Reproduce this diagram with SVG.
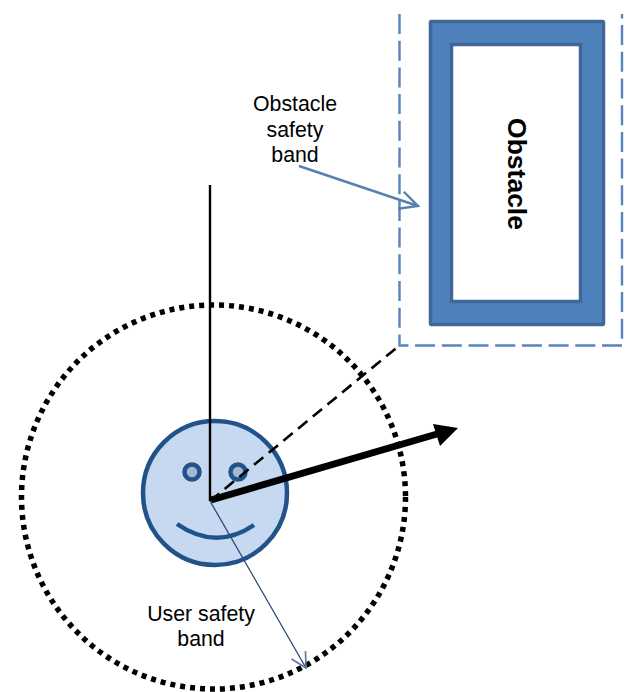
<svg xmlns="http://www.w3.org/2000/svg" width="625" height="692" viewBox="0 0 625 692">
<style>
text{font-family:"Liberation Sans",Arial,sans-serif;font-size:21.300px;fill:#000;text-anchor:middle}
.face{stroke:#22528a;stroke-width:4.500}
</style>
<defs>
<marker id="open" markerUnits="userSpaceOnUse" markerWidth="30" markerHeight="30" refX="20" refY="10" orient="auto" overflow="visible"><path d="M2 1L20 10L2 19" fill="none" stroke="#5a7fae" stroke-width="2.400"/></marker>
<marker id="thin" markerUnits="userSpaceOnUse" markerWidth="30" markerHeight="30" refX="16" refY="9" orient="auto" overflow="visible"><path d="M1 1L16 9L1 17" fill="none" stroke="#5f7396" stroke-width="1.600"/></marker>
</defs>
<g id="obstacle">
<rect x="430.500" y="21.500" width="173" height="303" fill="#4f81bd" stroke="#3f6797" stroke-width="3.500" rx="1"/>
<rect x="451.500" y="44.500" width="129" height="257" fill="#fff" stroke="#3f6797" stroke-width="3.500"/>
<text transform="translate(508 174) rotate(90)" style="font-weight:bold;font-size:26.500px">Obstacle</text>
</g>
<g id="obstacle-safety-band">
<path d="M399.500 14V345.500H622V14" fill="none" stroke="#5585bd" stroke-width="2.400" stroke-dasharray="20 6.700"/>
<text x="295" y="111">Obstacle</text>
<text x="295" y="137">safety</text>
<text x="295" y="162">band</text>
</g>
<g id="user-safety-band">
<circle cx="213.500" cy="497" r="192" fill="none" stroke="#000" stroke-width="5.500" stroke-dasharray="5 5"/>
<text x="201" y="621">User safety</text>
<text x="201" y="646">band</text>
</g>
<g id="user">
<circle cx="215" cy="493" r="72" fill="#c6d9f1" class="face"/>
<circle cx="192" cy="472" r="7.500" fill="#a6b8cf" class="face"/>
<circle cx="238" cy="472" r="7.500" fill="#a6b8cf" class="face"/>
<path d="M177 524Q216 551 254 525" fill="none" class="face"/>
</g>
<g id="connectors" fill="none">
<path d="M210 185V501" stroke="#000" stroke-width="2.400"/>
<path d="M210 501L400 345" stroke="#000" stroke-width="2.600" stroke-dasharray="12 7"/>
<path d="M299 166L418 206" stroke="#5a7fae" stroke-width="2.400" marker-end="url(#open)"/>
<path d="M210 501L306 668" stroke="#2f4a78" stroke-width="1.300" marker-end="url(#thin)"/>
<path d="M211 500L437 434" stroke="#000" stroke-width="7"/>
<path d="M458 428L440 446L433 424Z" fill="#000"/>
</g>
</svg>
